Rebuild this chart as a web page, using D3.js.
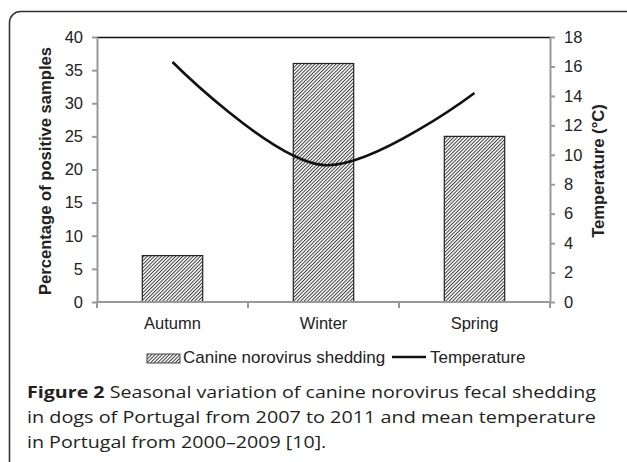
<!DOCTYPE html>
<html lang="en">
<head>
<meta charset="utf-8">
<script src="https://cdn.jsdelivr.net/npm/d3@7"></script>
<style>
  body { margin: 0; background: #fff; }
  .axis text { font-family: "Liberation Sans", Arial, sans-serif; font-size: 16.5px; fill: #222; }
  .axis path, .axis line { stroke: #999; stroke-width: 2px; }
</style>
</head>
<body>
<script>
// data
const seasons = ["Autumn", "Winter", "Spring"];
const shedding = [7, 36, 25];          // percentage of positive samples
const temperature = [16.3, 9.3, 14.2]; // mean temperature, degrees C
const leftTicks = [0, 5, 10, 15, 20, 25, 30, 35, 40];
const rightTicks = [0, 2, 4, 6, 8, 10, 12, 14, 16, 18];

const W = 627, H = 462;
const plot = {left: 97, top: 37, right: 550, bottom: 302};

const svg = d3.select("body").append("svg")
    .attr("width", W).attr("height", H);

// hatch pattern
const hs = 2.5;
const pat = svg.append("defs").append("pattern")
    .attr("id", "hatch")
    .attr("patternUnits", "userSpaceOnUse")
    .attr("width", hs).attr("height", hs)
    .attr("patternTransform", "rotate(45)");
pat.append("rect").attr("width", hs).attr("height", hs).attr("fill", "#fff");
pat.append("line")
    .attr("x1", 0.5).attr("y1", 0).attr("x2", 0.5).attr("y2", hs)
    .attr("stroke", "#333").attr("stroke-width", 0.95);

// outer rounded frame, open past the bottom
svg.append("rect")
    .attr("x", 9.5).attr("y", 11.5)
    .attr("width", 630).attr("height", 500)
    .attr("rx", 11)
    .attr("fill", "none")
    .attr("stroke", "#333")
    .attr("stroke-width", 1.6);

var x = d3.scaleBand()
    .domain(seasons)
    .range([plot.left, plot.right])
    .paddingInner(0.6).paddingOuter(0.3);

var xTick = d3.scaleBand().domain(seasons).range([plot.left, plot.right]);

var y = d3.scaleLinear().domain([0, 40]).range([plot.bottom, plot.top]);
var y2 = d3.scaleLinear().domain([0, 18]).range([plot.bottom, plot.top]);

// top border of the plot area
svg.append("line")
    .attr("x1", plot.left).attr("x2", plot.right)
    .attr("y1", plot.top + 0.5).attr("y2", plot.top + 0.5)
    .attr("stroke", "#111").attr("stroke-width", 1.4);

// bars
svg.selectAll(".bar")
    .data(shedding)
    .enter().append("rect")
    .attr("class", "bar")
    .attr("x", (d, i) => x(seasons[i]))
    .attr("y", d => y(d))
    .attr("width", x.bandwidth())
    .attr("height", d => y(0) - y(d))
    .attr("fill", "url(#hatch)")
    .attr("stroke", "#222")
    .attr("stroke-width", 1.2);

// left axis
svg.append("g")
    .attr("class", "axis")
    .attr("transform", "translate(" + plot.left + ",0)")
    .call(d3.axisLeft(y).tickValues(leftTicks).tickSize(5).tickPadding(9).tickSizeOuter(0));

// right axis
svg.append("g")
    .attr("class", "axis")
    .attr("transform", "translate(" + plot.right + ",0)")
    .call(d3.axisRight(y2).tickValues(rightTicks).tickSize(5).tickPadding(9).tickSizeOuter(0));

// bottom axis with ticks between categories
const xAxis = svg.append("g")
    .attr("class", "axis")
    .attr("transform", "translate(0," + plot.bottom + ")");
xAxis.append("line")
    .attr("x1", plot.left - 1).attr("x2", plot.right + 1);
const bounds = seasons.map(s => xTick(s)).concat([plot.right]);
xAxis.selectAll(".tk").data(bounds).enter().append("line")
    .attr("x1", d => d).attr("x2", d => d)
    .attr("y1", 0).attr("y2", 6);
xAxis.selectAll(".lbl").data(seasons).enter().append("text")
    .attr("x", d => xTick(d) + xTick.bandwidth() / 2)
    .attr("y", 27)
    .attr("text-anchor", "middle")
    .text(d => d);

// temperature line
const line = d3.line()
    .x((d, i) => x(seasons[i]) + x.bandwidth() / 2)
    .y(d => y2(d))
    .curve(d3.curveCatmullRom.alpha(0.5));
svg.append("path")
    .datum(temperature)
    .attr("d", line)
    .attr("fill", "none")
    .attr("stroke", "#111")
    .attr("stroke-width", 2.6);

// axis titles
svg.append("text")
    .attr("transform", "translate(51,171) rotate(-90)")
    .attr("text-anchor", "middle")
    .style("font-family", "Liberation Sans, Arial, sans-serif")
    .style("font-weight", "bold").style("font-size", "16.6px")
    .attr("fill", "#222")
    .text("Percentage of positive samples");

svg.append("text")
    .attr("transform", "translate(604,171) rotate(-90)")
    .attr("text-anchor", "middle")
    .style("font-family", "Liberation Sans, Arial, sans-serif")
    .style("font-weight", "bold").style("font-size", "16.6px")
    .attr("fill", "#222")
    .text("Temperature (°C)");

// legend
const legend = svg.append("g").style("font-family", "Liberation Sans, Arial, sans-serif")
    .style("font-size", "17px");
legend.append("rect")
    .attr("x", 147).attr("y", 354).attr("width", 33).attr("height", 9)
    .attr("fill", "url(#hatch)").attr("stroke", "#444").attr("stroke-width", 1);
legend.append("text").attr("x", 183).attr("y", 363).attr("fill", "#222")
    .text("Canine norovirus shedding");
legend.append("line")
    .attr("x1", 392).attr("x2", 426).attr("y1", 357).attr("y2", 357)
    .attr("stroke", "#111").attr("stroke-width", 2.6);
legend.append("text").attr("x", 430).attr("y", 363).attr("fill", "#222")
    .text("Temperature");

// caption
const captionLines = [
  [["Figure 2", true], [" Seasonal variation of canine norovirus fecal shedding", false]],
  [["in dogs of Portugal from 2007 to 2011 and mean temperature", false]],
  [["in Portugal from 2000\u20132009 [10].", false]]
];
const capWidth = 569;
const cap = svg.append("g")
    .style("font-family", "Open Sans, Noto Sans, sans-serif")
    .style("font-size", "15.5px")
    .attr("fill", "#231f20");
const capTexts = captionLines.map((parts, i) => {
  const t = cap.append("text").attr("x", 27).attr("y", 398 + i * 25);
  parts.forEach(p => {
    t.append("tspan").style("font-weight", p[1] ? "bold" : "500").text(p[0]);
  });
  return t;
});
// the first two lines are justified to the full width, the last keeps the same stretch
const ratio = capWidth / capTexts[0].node().getComputedTextLength();
capTexts.forEach((t, i) => {
  const len = i < 2 ? capWidth : t.node().getComputedTextLength() * ratio;
  t.attr("textLength", len).attr("lengthAdjust", "spacingAndGlyphs");
});
</script>
</body>
</html>
